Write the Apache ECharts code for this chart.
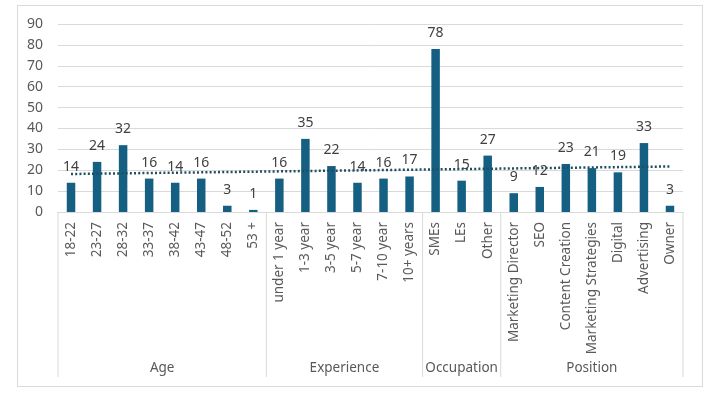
<!DOCTYPE html>
<html>
<head>
<meta charset="utf-8">
<script src="https://cdn.jsdelivr.net/npm/echarts@6/dist/echarts.min.js"></script>
<style>
html,body{margin:0;padding:0;background:#fff;}
#c{width:721px;height:394px;}
</style>
</head>
<body>
<div id="c"></div>
<script>
// ---- data ----
var categories = ["18-22","23-27","28-32","33-37","38-42","43-47","48-52","53 +",
  "under 1 year","1-3 year","3-5 year","5-7 year","7-10 year","10+ years",
  "SMEs","LEs","Other",
  "Marketing Director","SEO","Content Creation","Marketing Strategies","Digital","Advertising","Owner"];
var values = [14,24,32,16,14,16,3,1, 16,35,22,14,16,17, 78,15,27, 9,12,23,21,19,33,3];
var groupNames = ["Age","Experience","Occupation","Position"];
var groupSizes = [8,6,3,7];
var trendEnds = [18.2, 21.8];
var yTicks = [0,10,20,30,40,50,60,70,80,90];

var FONT = "Noto Sans";
var chart = echarts.init(document.getElementById('c'), null, {renderer:'canvas'});
var gridLeft = 58, gridRight = 38, gridTop = 24, gridBottom = 182;

chart.setOption({
  animation:false,
  backgroundColor:'#fff',
  textStyle:{fontFamily:FONT},
  grid:{left:gridLeft, right:gridRight, top:gridTop, bottom:gridBottom, containLabel:false},
  xAxis:{
    type:'category', data:categories, boundaryGap:true,
    axisLine:{show:true, lineStyle:{color:'#d9d9d9', width:1}},
    axisTick:{show:false},
    axisLabel:{rotate:90, interval:0, margin:10, color:'#595959', fontSize:13.5, fontFamily:FONT}
  },
  yAxis:{
    type:'value', min:yTicks[0], max:yTicks[yTicks.length-1], interval:10,
    axisLine:{show:false}, axisTick:{show:false},
    axisLabel:{color:'#595959', fontSize:14, margin:15, fontFamily:FONT},
    splitLine:{lineStyle:{color:'#d9d9d9', width:1}}
  },
  series:[
    {
      type:'bar', data:values, barWidth:8.5,
      itemStyle:{color:'#156082'},
      label:{show:true, position:'top', distance:9, color:'#404040', fontSize:14, fontFamily:FONT}
    },
    {
      type:'line', data:[[0, trendEnds[0]],[categories.length-1, trendEnds[1]]],
      symbol:'none', z:5,
      lineStyle:{color:'#1d4f61', width:2.5, type:[2,2.2], cap:'butt'}
    }
  ]
});

// multi-level category axis: separators and group labels
var g = [];
var axisY = chart.convertToPixel({yAxisIndex:0}, 0);
var p0 = chart.convertToPixel({xAxisIndex:0}, 0);
var p1 = chart.convertToPixel({xAxisIndex:0}, 1);
var step = p1 - p0;
var start = 0;
var lineBottom = 377;
function boundaryX(idx){ return chart.convertToPixel({xAxisIndex:0}, idx) - step/2; }
g.push({type:'line', shape:{x1:boundaryX(0), y1:axisY, x2:boundaryX(0), y2:lineBottom}, style:{stroke:'#d9d9d9', lineWidth:1}});
for (var i=0;i<groupNames.length;i++){
  var end = start + groupSizes[i];
  var xs = boundaryX(start), xe = boundaryX(end);
  g.push({type:'line', shape:{x1:xe, y1:axisY, x2:xe, y2:lineBottom}, style:{stroke:'#d9d9d9', lineWidth:1}});
  g.push({type:'text', x:(xs+xe)/2, y:368, style:{text:groupNames[i], fill:'#595959', font:'13.5px "'+FONT+'"', textAlign:'center', textVerticalAlign:'middle'}});
  start = end;
}
// outer chart border
g.push({type:'rect', shape:{x:17.5, y:5.5, width:685, height:381}, style:{fill:'none', stroke:'#d9d9d9', lineWidth:1}, z:-1});
chart.setOption({graphic:g});
</script>
</body>
</html>
